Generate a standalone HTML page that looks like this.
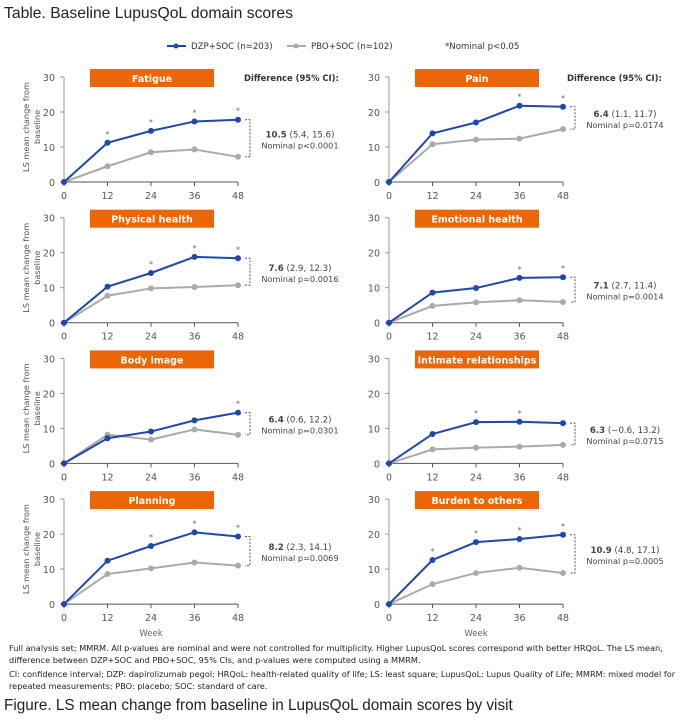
<!DOCTYPE html>
<html><head><meta charset="utf-8"><style>
body{margin:0;background:#fff;}
svg text{font-family:"DejaVu Sans","Liberation Sans",sans-serif;}
</style></head><body>
<svg id="s" width="687" height="718" xmlns="http://www.w3.org/2000/svg">
<text x="4" y="18" font-size="15.7" fill="#222" style="font-family:'Liberation Sans',sans-serif">Table. Baseline LupusQoL domain scores</text>
<line x1="167" y1="46" x2="186" y2="46" stroke="#1f48a8" stroke-width="2"/><circle cx="176" cy="46" r="2.5" fill="#1f48a8"/>
<text x="191" y="49" font-size="8.6" fill="#333">DZP+SOC (n=203)</text>
<line x1="287" y1="46" x2="306" y2="46" stroke="#aaa" stroke-width="2"/><circle cx="296" cy="46" r="2.5" fill="#aaa"/>
<text x="311" y="49" font-size="8.6" fill="#333">PBO+SOC (n=102)</text>
<text x="445" y="49" font-size="8.6" fill="#333">*Nominal p&lt;0.05</text>
<text x="244" y="81" font-size="8.4" font-weight="bold" fill="#333">Difference (95% CI):</text>
<text x="567" y="81" font-size="8.4" font-weight="bold" fill="#333">Difference (95% CI):</text>
<text x="151" y="636" font-size="8.5" fill="#666" text-anchor="middle">Week</text>
<text x="476" y="636" font-size="8.5" fill="#666" text-anchor="middle">Week</text>
<g font-size="8.2" fill="#222" style="font-family:'Liberation Sans',sans-serif">
<text x="9" y="651">Full analysis set; MMRM. All p-values are nominal and were not controlled for multiplicity. Higher LupusQoL scores correspond with better HRQoL. The LS mean,</text>
<text x="9" y="663">difference between DZP+SOC and PBO+SOC, 95% CIs, and p-values were computed using a MMRM.</text>
<text x="9" y="677">CI: confidence interval; DZP: dapirolizumab pegol; HRQoL: health-related quality of life; LS: least square; LupusQoL: Lupus Quality of Life; MMRM: mixed model for</text>
<text x="9" y="689">repeated measurements; PBO: placebo; SOC: standard of care.</text>
</g>
<text x="4" y="710" font-size="15.3" fill="#222" style="font-family:'Liberation Sans',sans-serif">Figure. LS mean change from baseline in LupusQoL domain scores by visit</text>
</svg>
<script>
var s=document.getElementById('s'),NS='http://www.w3.org/2000/svg';
function el(t,a,txt){var e=document.createElementNS(NS,t);for(var k in a)e.setAttribute(k,a[k]);if(txt!=null)e.textContent=txt;s.appendChild(e);return e;}
var P=[
["Fatigue",[0,11.2,14.6,17.3,17.8],[0,4.5,8.5,9.3,7.2],[1,2,3,4],"10.5","(5.4, 15.6)","Nominal p<0.0001"],
["Pain",[0,13.9,17,21.8,21.5],[0,10.8,12.1,12.4,15.1],[3,4],"6.4","(1.1, 11.7)","Nominal p=0.0174"],
["Physical health",[0,10.3,14.2,18.8,18.4],[0,7.7,9.8,10.2,10.7],[2,3,4],"7.6","(2.9, 12.3)","Nominal p=0.0016"],
["Emotional health",[0,8.6,9.9,12.8,13.0],[0,4.8,5.8,6.4,5.9],[3,4],"7.1","(2.7, 11.4)","Nominal p=0.0014"],
["Body image",[0,7.2,9.1,12.3,14.5],[0,8.2,6.8,9.7,8.2],[4],"6.4","(0.6, 12.2)","Nominal p=0.0301"],
["Intimate relationships",[0,8.4,11.8,11.9,11.5],[0,4.0,4.5,4.8,5.3],[2,3],"6.3","(\u22120.6, 13.2)","Nominal p=0.0715"],
["Planning",[0,12.4,16.6,20.5,19.3],[0,8.6,10.2,11.9,11.0],[2,3,4],"8.2","(2.3, 14.1)","Nominal p=0.0069"],
["Burden to others",[0,12.6,17.7,18.6,19.8],[0,5.7,8.9,10.4,8.9],[1,2,3,4],"10.9","(4.8, 17.1)","Nominal p=0.0005"]];
P.forEach(function(p,i){
 var col=i%2,row=Math.floor(i/2);
 var x0=col?389:64,y0=182+row*140.7,sx=43.5,sy=3.5;
 var X=function(j){return x0+j*sx},Y=function(v){return y0-v*sy};
 el('line',{x1:x0,y1:y0-105,x2:x0,y2:y0,stroke:'#999','stroke-width':1});
 el('line',{x1:x0,y1:y0,x2:x0+174,y2:y0,stroke:'#555','stroke-width':1});
 for(var k=0;k<=3;k++){el('line',{x1:x0-4,y1:Y(k*10),x2:x0,y2:Y(k*10),stroke:'#999'});
  el('text',{x:x0-9,y:Y(k*10)+4,'font-size':9.5,fill:'#555','text-anchor':'end'},k*10);}
 for(var j=0;j<5;j++){el('line',{x1:X(j),y1:y0,x2:X(j),y2:y0+4,stroke:'#555'});
  el('text',{x:X(j),y:y0+17,'font-size':9.5,fill:'#555','text-anchor':'middle'},j*12);}
 el('rect',{x:x0+26,y:y0-113,width:124,height:18,fill:'#ec6608'});
 el('text',{x:x0+88,y:y0-100,'font-size':9.5,'font-weight':'bold',fill:'#fff','text-anchor':'middle'},p[0]);
 if(!col){el('text',{transform:'translate(29,'+(y0-55)+') rotate(-90)','font-size':8.2,fill:'#555','text-anchor':'middle'},'LS mean change from');
   el('text',{transform:'translate(40,'+(y0-55)+') rotate(-90)','font-size':8.2,fill:'#555','text-anchor':'middle'},'baseline');}
 [[p[2],'#aaa'],[p[1],'#1f48a8']].forEach(function(d){
  el('polyline',{points:d[0].map(function(v,j){return X(j)+','+Y(v)}).join(' '),fill:'none',stroke:d[1],'stroke-width':2});
  d[0].forEach(function(v,j){el('circle',{cx:X(j),cy:Y(v),r:3,fill:d[1]});});
 });
 p[3].forEach(function(j){el('text',{x:X(j),y:Y(p[1][j])-6,'font-size':8,fill:'#666','text-anchor':'middle'},'*');});
 var ya=Y(p[1][4]),yb=Y(p[2][4]),bx=x0+186;
 el('path',{d:'M'+(bx-5)+' '+ya+'H'+bx+'V'+yb+'H'+(bx-5),fill:'none',stroke:'#555','stroke-dasharray':'2,1.5','stroke-width':1});
 var tm=(ya+yb)/2, tx=x0+236;
 var t=el('text',{x:tx,y:tm-1,'font-size':8.6,fill:'#444','text-anchor':'middle'});
 var b=document.createElementNS(NS,'tspan');b.setAttribute('font-weight','bold');b.textContent=p[4];t.appendChild(b);
 t.appendChild(document.createTextNode(' '+p[5]));
 el('text',{x:tx,y:tm+10,'font-size':8.2,fill:'#444','text-anchor':'middle'},p[6]);
});
</script>
</body></html>
